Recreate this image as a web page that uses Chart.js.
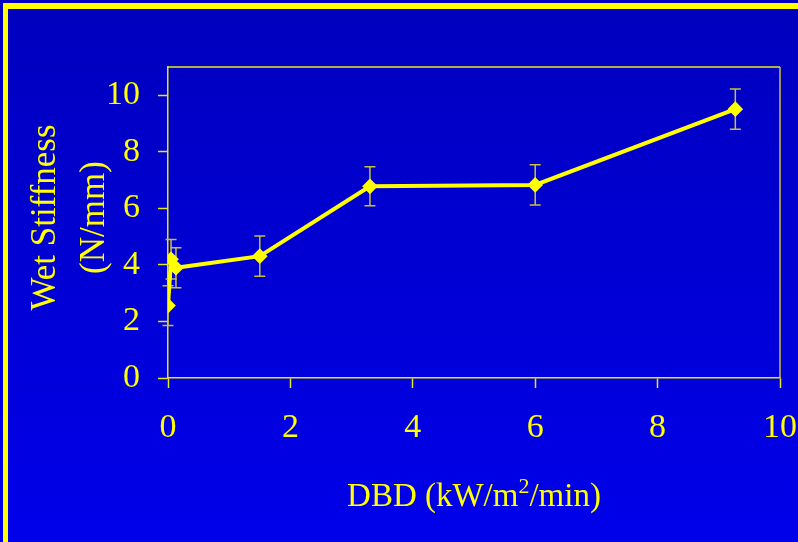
<!DOCTYPE html>
<html>
<head>
<meta charset="utf-8">
<script src="https://cdn.jsdelivr.net/npm/chart.js@4.4.0/dist/chart.umd.min.js"></script>
<style>
  html, body { margin: 0; padding: 0; background: #0000c8; }
  canvas { display: block; }
</style>
</head>
<body>
<canvas id="stiffChart" width="798" height="542"></canvas>
<script>
// DBD dose vs wet stiffness, with standard deviation bars
const dbdDose = [0, 0.05, 0.13, 1.5, 3.3, 6.0, 9.27];
const wetStiffness = [2.56, 4.2, 3.9, 4.31, 6.78, 6.83, 9.51];
const stiffnessErr = [0.7, 0.7, 0.71, 0.71, 0.69, 0.71, 0.71];
const xTicks = [0, 2, 4, 6, 8, 10];
const yTicks = [0, 2, 4, 6, 8, 10];

const YELLOW = '#ffff00';
const SERIF = "'Liberation Serif', 'Times New Roman', serif";

const points = dbdDose.map((x, i) => ({ x: x, y: wetStiffness[i] }));

// slide background + yellow frame at top/left
const slideBg = {
  id: 'slideBg',
  beforeDraw(chart) {
    const ctx = chart.ctx;
    const g = ctx.createLinearGradient(0, 0, 0, chart.height);
    g.addColorStop(0, 'rgb(0,0,190)');
    g.addColorStop(1, 'rgb(0,0,234)');
    ctx.save();
    ctx.fillStyle = g;
    ctx.fillRect(0, 0, chart.width, chart.height);
    ctx.fillStyle = YELLOW;
    ctx.fillRect(3, 3, chart.width - 3, 6);
    ctx.fillRect(3, 3, 5, chart.height - 3);
    ctx.restore();
  }
};

// top and right edges of the plot box
const plotFrame = {
  id: 'plotFrame',
  afterDraw(chart) {
    const a = chart.chartArea;
    const ctx = chart.ctx;
    ctx.save();
    ctx.lineWidth = 1.5;
    ctx.strokeStyle = '#e8e820';
    ctx.beginPath();
    ctx.moveTo(a.left, a.top);
    ctx.lineTo(a.right, a.top);
    ctx.stroke();
    ctx.strokeStyle = '#c8c040';
    ctx.beginPath();
    ctx.moveTo(a.right, a.top);
    ctx.lineTo(a.right, a.bottom);
    ctx.stroke();
    ctx.restore();
  }
};

const errorBars = {
  id: 'errorBars',
  beforeDatasetsDraw(chart) {
    const xs = chart.scales.x, ys = chart.scales.y;
    const ctx = chart.ctx;
    ctx.save();
    ctx.strokeStyle = '#c8c040';
    ctx.lineWidth = 1.5;
    dbdDose.forEach((x, i) => {
      const px = xs.getPixelForValue(x);
      const top = ys.getPixelForValue(wetStiffness[i] + stiffnessErr[i]);
      const bot = ys.getPixelForValue(wetStiffness[i] - stiffnessErr[i]);
      ctx.beginPath();
      ctx.moveTo(px, top); ctx.lineTo(px, bot);
      ctx.moveTo(px - 5.5, top); ctx.lineTo(px + 5.5, top);
      ctx.moveTo(px - 5.5, bot); ctx.lineTo(px + 5.5, bot);
      ctx.stroke();
    });
    ctx.restore();
  }
};

const axisTitles = {
  id: 'axisTitles',
  afterDraw(chart) {
    const a = chart.chartArea;
    const ctx = chart.ctx;
    ctx.save();
    ctx.fillStyle = YELLOW;
    ctx.font = '35px ' + SERIF;
    ctx.textBaseline = 'middle';
    ctx.textAlign = 'center';
    // y title, two rotated lines
    const cy = (a.top + a.bottom) / 2 - 5;
    ctx.save();
    ctx.translate(46, cy);
    ctx.rotate(-Math.PI / 2);
    ctx.fillText('Wet Stiffness', 0, 0);
    ctx.restore();
    ctx.save();
    ctx.translate(95, cy);
    ctx.rotate(-Math.PI / 2);
    ctx.fillText('(N/mm)', 0, 0);
    ctx.restore();
    // x title with superscript 2
    const p1 = 'DBD (kW/m', p2 = '2', p3 = '/min)';
    ctx.textAlign = 'left';
    ctx.textBaseline = 'alphabetic';
    const big = '33px ' + SERIF, small = '22px ' + SERIF;
    ctx.font = big;
    const w1 = ctx.measureText(p1).width, w3 = ctx.measureText(p3).width;
    ctx.font = small;
    const w2 = ctx.measureText(p2).width;
    let x = (a.left + a.right) / 2 - (w1 + w2 + w3) / 2;
    const base = 506;
    ctx.font = big;
    ctx.fillText(p1, x, base); x += w1;
    ctx.font = small;
    ctx.fillText(p2, x, base - 13); x += w2;
    ctx.font = big;
    ctx.fillText(p3, x, base);
    ctx.restore();
  }
};

new Chart(document.getElementById('stiffChart'), {
  type: 'scatter',
  data: {
    datasets: [{
      label: 'Wet Stiffness',
      data: points,
      showLine: true,
      borderColor: YELLOW,
      backgroundColor: YELLOW,
      borderWidth: 4,
      pointStyle: 'rectRot',
      pointRadius: 5,
      pointHoverRadius: 5,
      tension: 0
    }]
  },
  options: {
    responsive: false,
    animation: false,
    events: [],
    layout: { padding: { left: 0, top: 67, right: 18, bottom: 0 } },
    plugins: {
      legend: { display: false },
      tooltip: { enabled: false }
    },
    scales: {
      x: {
        type: 'linear',
        min: 0,
        max: 10,
        afterBuildTicks: s => { s.ticks = xTicks.map(v => ({ value: v })); },
        afterFit: s => {
          s.height = 542 - 378;
          s.paddingLeft = 0;
          s.paddingRight = 0;
        },
        grid: {
          drawOnChartArea: false,
          drawTicks: true,
          tickLength: 10,
          tickColor: '#e8e820',
          tickWidth: 1.5
        },
        border: { color: '#e8e820', width: 1.5 },
        ticks: {
          color: YELLOW,
          font: { family: SERIF, size: 34 },
          padding: 20,
          maxRotation: 0
        }
      },
      y: {
        type: 'linear',
        min: 0,
        max: 11,
        afterBuildTicks: s => { s.ticks = yTicks.map(v => ({ value: v })); },
        afterFit: s => {
          s.width = 168;
          s.paddingTop = 0;
          s.paddingBottom = 0;
        },
        grid: {
          drawOnChartArea: false,
          drawTicks: true,
          tickLength: 10,
          tickColor: '#e8e820',
          tickWidth: 1.5
        },
        border: { color: '#e8e820', width: 1.5 },
        ticks: {
          color: YELLOW,
          font: { family: SERIF, size: 34 },
          padding: 18
        }
      }
    }
  },
  plugins: [slideBg, errorBars, plotFrame, axisTitles]
});
</script>
</body>
</html>
